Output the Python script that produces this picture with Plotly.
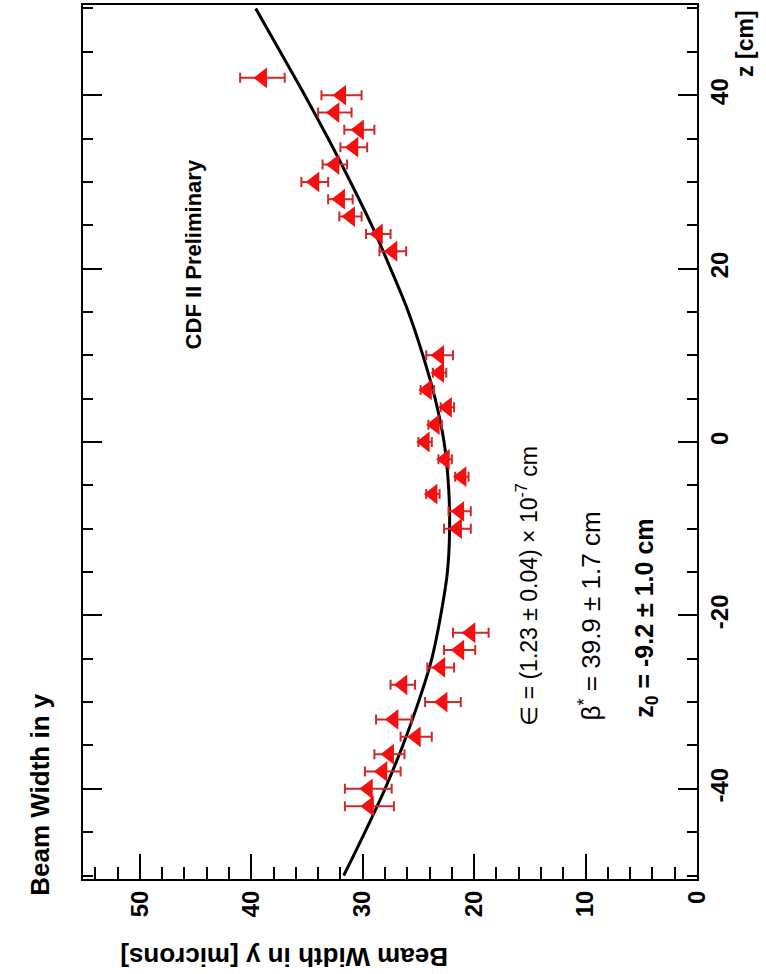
import plotly.graph_objects as go

# Data points: z [cm], beam width [microns], error
z_pos = [42, 40, 38, 36, 34, 32, 30, 28, 26, 24, 22,
         10, 8, 6, 4, 2, 0, -2, -4, -6, -8, -10,
         -22, -24, -26, -28, -30, -32, -34, -36, -38, -40, -42]
width = [39.0, 31.9, 32.5, 30.3, 30.8, 32.5, 34.3, 32.0, 31.1, 28.6, 27.3,
         23.1, 23.1, 24.2, 22.4, 23.5, 24.4, 22.6, 21.1, 23.7, 21.3, 21.5,
         20.3, 21.3, 23.0, 26.4, 22.8, 27.2, 25.2, 27.6, 28.2, 29.5, 29.4]
err = [2.0, 1.8, 1.5, 1.35, 1.2, 1.1, 1.2, 1.1, 1.0, 1.1, 1.2,
       1.2, 0.6, 0.6, 0.6, 0.6, 0.6, 0.6, 0.6, 0.6, 1.0, 1.2,
       1.6, 1.4, 1.2, 1.1, 1.6, 1.6, 1.4, 1.35, 1.6, 2.1, 2.2]

# Fit curve
curve_z = [-50, -45, -40, -35, -30, -25, -20, -15, -10, -5, 0,
           5, 10, 15, 20, 25, 30, 35, 40, 45, 50]
curve_w = [31.7, 29.8, 28.0, 26.4, 25.0, 23.8, 23.0, 22.4, 22.2, 22.3, 22.7,
           23.5, 24.6, 25.9, 27.5, 29.2, 31.1, 33.1, 35.2, 37.4, 39.6]

x_ticks = [0, 10, 20, 30, 40, 50]
z_ticks = [-40, -20, 0, 20, 40]
z_ticktext = ["-40", "-20", "0", "20", "40"]

FONT = "Liberation Sans, Arial, sans-serif"

fig = go.Figure()
fig.add_trace(go.Scatter(
    x=curve_w, y=curve_z, mode="lines",
    line=dict(color="black", width=3, shape="spline"),
    showlegend=False, hoverinfo="skip"))
fig.add_trace(go.Scatter(
    x=width, y=z_pos, mode="markers",
    marker=dict(symbol="triangle-left", size=18, color="#f41010",
                line=dict(width=0)),
    error_x=dict(type="data", array=err, color="#d02828",
                 thickness=2, width=5),
    showlegend=False))

fig.update_layout(
    width=766, height=974,
    margin=dict(l=83, r=69, t=3, b=95),
    paper_bgcolor="white", plot_bgcolor="white",
    font=dict(family=FONT, color="black"),
    xaxis=dict(
        range=[55.1, 0], tickvals=x_ticks, ticks="inside", ticklen=25,
        tickwidth=2, tickcolor="black", showline=True, linewidth=2,
        linecolor="black", mirror=True, showgrid=False, zeroline=False,
        tickangle=-90, tickfont=dict(size=24, weight="bold", family=FONT),
        minor=dict(dtick=2, ticks="inside", ticklen=12, tickwidth=2,
                   tickcolor="black", showgrid=False),
    ),
    yaxis=dict(
        range=[-50.4, 50.4], tickvals=z_ticks, ticktext=z_ticktext,
        side="right", ticks="inside",
        ticklen=19, tickwidth=2, tickcolor="black", showline=True,
        linewidth=2, linecolor="black", mirror="ticks", showgrid=False,
        zeroline=False, tickangle=-90,
        tickfont=dict(size=24, weight="bold", family=FONT),
        minor=dict(dtick=5, ticks="inside", ticklen=10, tickwidth=2,
                   tickcolor="black", showgrid=False),
    ),
)

ann = []
# Chart title
ann.append(dict(text="<b>Beam Width in y</b>", xref="paper", yref="paper",
                x=-0.070, y=-0.022, xanchor="center", yanchor="bottom",
                textangle=-90, showarrow=False, font=dict(size=26, family=FONT)))
# Axis titles
ann.append(dict(text="<b>z [cm]</b>", xref="paper", yref="paper",
                x=1.078, y=0.9954, xanchor="center", yanchor="top",
                textangle=-90, showarrow=False, font=dict(size=23, family=FONT)))
ann.append(dict(text="<b>Beam Width in y [microns]</b>", xref="paper", yref="paper",
                x=0.057, y=-0.0885, xanchor="left", yanchor="middle",
                textangle=180, showarrow=False, font=dict(size=26, family=FONT)))
# Labels in plot
ann.append(dict(text="<b>CDF II Preliminary</b>", x=45.1, y=10.5,
                xanchor="center", yanchor="bottom", textangle=-90,
                showarrow=False, font=dict(size=22, family=FONT)))
ann.append(dict(text="∈ = (1.23 ± 0.04) × 10<sup>-7</sup> cm", x=15.2, y=-33.0,
                xanchor="center", yanchor="bottom", textangle=-90,
                showarrow=False, font=dict(size=23, family=FONT)))
ann.append(dict(text="β<sup>*</sup> = 39.9 ± 1.7 cm", x=9.6, y=-32.4,
                xanchor="center", yanchor="bottom", textangle=-90,
                showarrow=False, font=dict(size=26, family=FONT)))
ann.append(dict(text="<b>z<sub>0</sub> = -9.2 ± 1.0 cm</b>", x=4.6, y=-32.0,
                xanchor="center", yanchor="bottom", textangle=-90,
                showarrow=False, font=dict(size=25, family=FONT)))
fig.update_layout(annotations=ann)

fig.write_html("out.html")
